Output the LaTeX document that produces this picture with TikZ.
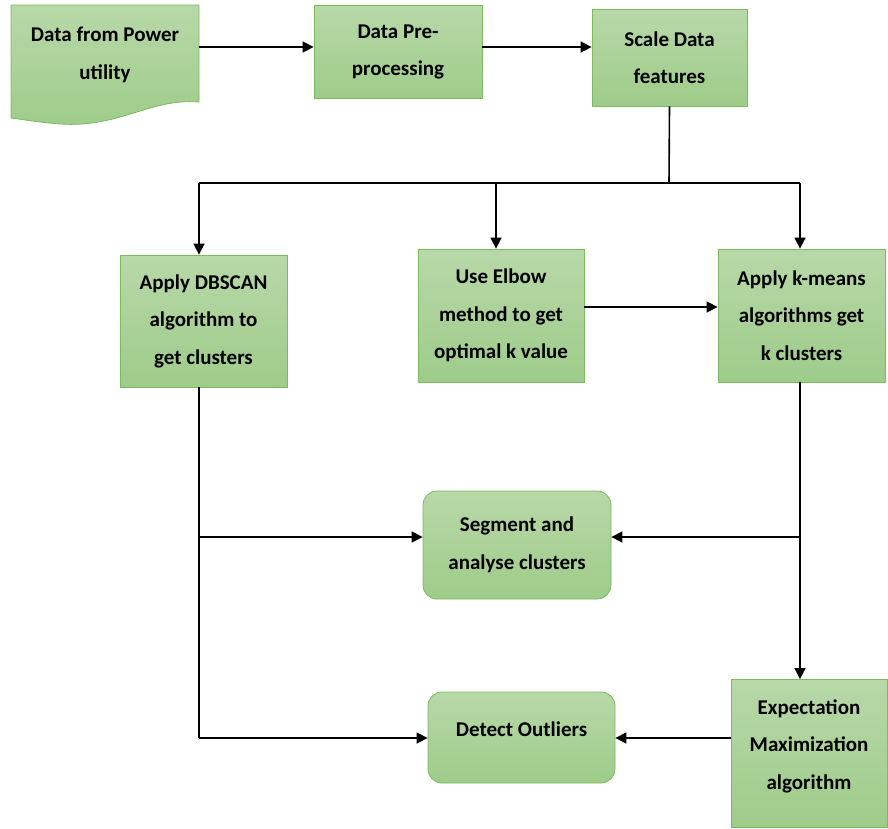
\documentclass[tikz,border=0pt]{standalone}
\usepackage{fontspec}
\setmainfont{Carlito}
\usetikzlibrary{arrows.meta}
\definecolor{gtop}{RGB}{184,216,168}
\definecolor{gbot}{RGB}{158,204,138}
\definecolor{gline}{RGB}{125,185,95}
\tikzset{
  box/.style={draw=gline, line width=0.8pt, top color=gtop, bottom color=gbot,
    align=center, font=\fontsize{21}{37.5}\selectfont\bfseries, inner sep=0pt},
  rbox/.style={box, rounded corners=14pt},
  conn/.style={line width=1.6pt, draw=black},
  arr/.style={conn, -{Triangle[length=11pt,width=11pt]}},
  lbl/.style={align=center, font=\fontsize{21}{37.5}\selectfont\bfseries, inner sep=0pt}
}
\begin{document}
\begin{tikzpicture}[x=1pt,y=-1pt]
\useasboundingbox (0,0) rectangle (888,828);
% document shape
\shade[top color=gtop, bottom color=gbot, draw=gline, line width=0.8pt]
  (11,5) -- (199,5) -- (199,102)
  .. controls (150,98) and (120,128) .. (60,124)
  .. controls (35,122) and (20,119) .. (11,118) -- cycle;
\node[lbl, minimum width=188pt, minimum height=97pt] (doc) at (105,55) {Data from Power\\utility};
\node[box, minimum width=168pt, minimum height=93pt] (pre) at (398,52) {Data Pre-\\processing};
\node[box, minimum width=155pt, minimum height=97pt] (scale) at (669.5,57.5) {Scale Data\\features};
\node[box, minimum width=167pt, minimum height=132pt] (dbscan) at (203.5,321) {Apply DBSCAN\\algorithm to\\get clusters};
\node[box, minimum width=166pt, minimum height=133pt] (elbow) at (501,315.5) {Use Elbow\\method to get\\optimal k value};
\node[box, minimum width=167pt, minimum height=133pt] (kmeans) at (801.5,315.5) {Apply k-means\\algorithms get\\k clusters};
\node[rbox, minimum width=188pt, minimum height=108pt] (seg) at (517,545) {Segment and\\analyse clusters};
\node[rbox, minimum width=187pt, minimum height=91pt] (out) at (521.5,737.5) {};
\node[lbl] (outt) at (521.5,729) {Detect Outliers};
\node[box, minimum width=156pt, minimum height=148pt] (em) at (809,753.5) {};
\node[lbl] (emt) at (809,746) {Expectation\\Maximization\\algorithm};
% connectors
\coordinate (ytop) at (0,47);
\coordinate (yel) at (0,307);
\coordinate (split) at (669,183);
\coordinate (sl) at (199,183);
\coordinate (sm) at (496,183);
\coordinate (sr) at (800,183);
\coordinate (dbb) at (199,387);
\coordinate (kmb) at (800,382);
\coordinate (ysg) at (0,537);
\coordinate (yout) at (0,738);
\draw[arr] (doc.east |- ytop) -- (pre.west |- ytop);
\draw[arr] (pre.east |- ytop) -- (scale.west |- ytop);
\draw[conn] (scale.south) -- (split);
\draw[conn] (sl) -- (sr);
\draw[arr] (sl) -- (sl |- dbscan.north);
\draw[arr] (sm) -- (sm |- elbow.north);
\draw[arr] (sr) -- (sr |- kmeans.north);
\draw[arr] (elbow.east |- yel) -- (kmeans.west |- yel);
\draw[conn] (dbb) -- (dbb |- yout);
\draw[arr] (dbb |- ysg) -- (seg.west |- ysg);
\draw[arr] (dbb |- yout) -- (out.west |- yout);
\draw[arr] (kmb) -- (kmb |- em.north);
\draw[arr] (kmb |- ysg) -- (seg.east |- ysg);
\draw[arr] (em.west |- yout) -- (out.east |- yout);
\end{tikzpicture}
\end{document}
